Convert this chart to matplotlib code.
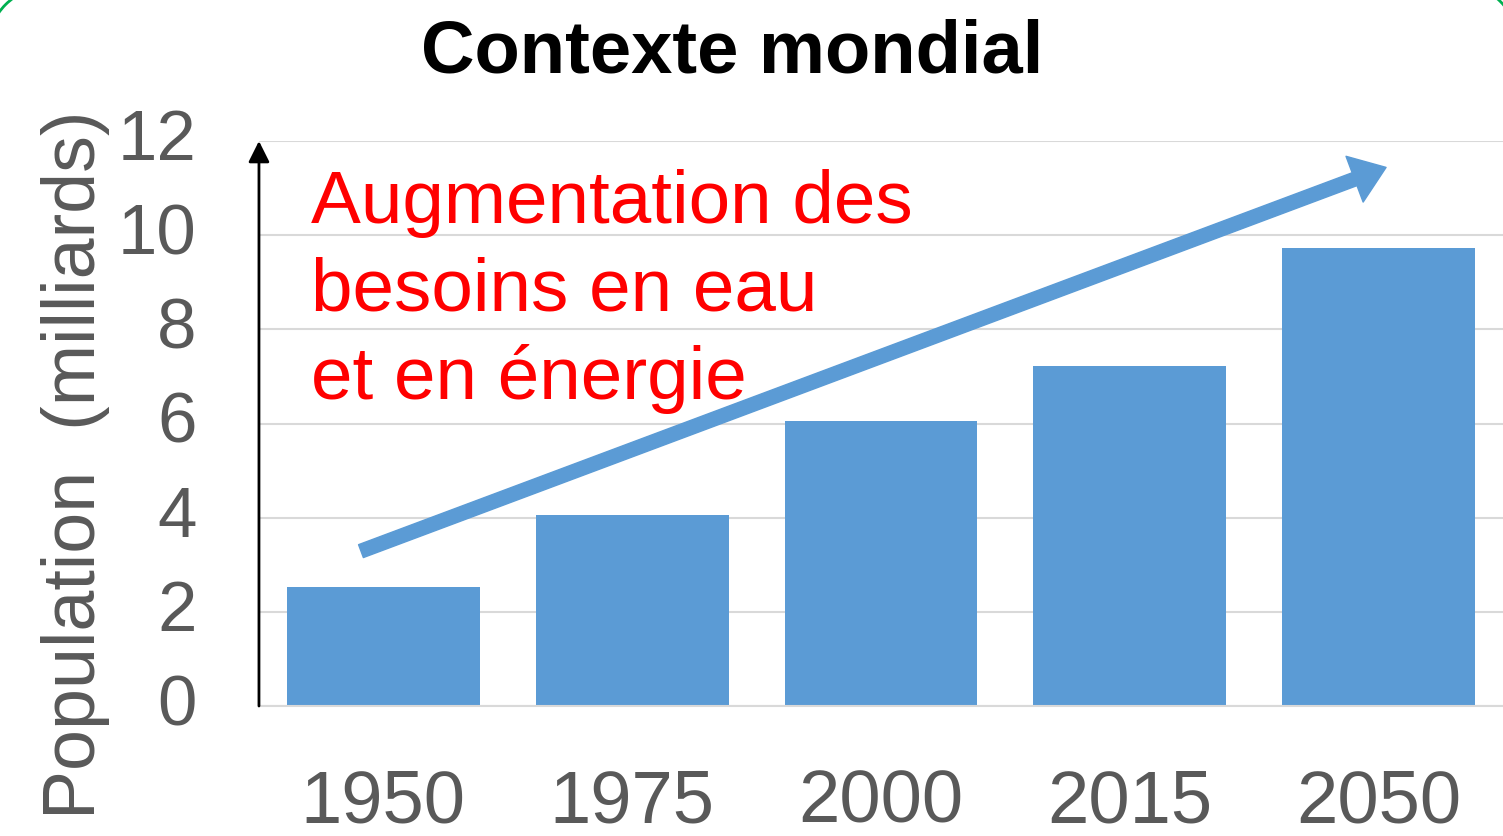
'''plot.py

Contexte mondial: world population bar chart.
'''
import matplotlib.pyplot as plt
from matplotlib.patches import Arc

# Data
years = ["1950", "1975", "2000", "2015", "2050"]
population = [2.52, 4.06, 6.05, 7.23, 9.72]
yticks = [0, 2, 4, 6, 8, 10, 12]

BAR_COLOR = "#5b9bd5"
GRAY = "#595959"

plt.rcParams["font.family"] = ["Liberation Sans", "DejaVu Sans"]

fig = plt.figure(figsize=(15.03, 8.37), dpi=100)
ax = fig.add_axes([0.1723, 0.1553, 0.8277, 0.675])

ax.bar(years, population, width=0.775, color=BAR_COLOR, zorder=2)
ax.set_xlim(-0.5, 4.5)
ax.set_ylim(0, 12)
ax.set_yticks(yticks)
ax.yaxis.grid(True, color="#d9d9d9", linewidth=1.5, zorder=0)
ax.set_axisbelow(True)

for side in ["top", "right"]:
    ax.spines[side].set_visible(False)
ax.spines["bottom"].set_color("#d9d9d9")
ax.spines["bottom"].set_linewidth(1.5)
ax.spines["left"].set_visible(False)

# y axis drawn as an arrow
ax.annotate("", xy=(0, 1.0), xytext=(0, 0), xycoords="axes fraction",
            arrowprops=dict(arrowstyle="-|>", color="black", lw=2,
                            mutation_scale=32, shrinkA=0, shrinkB=0))

ax.tick_params(axis="both", length=0, colors=GRAY)
ax.tick_params(axis="y", pad=45, labelsize=51)
ax.tick_params(axis="x", pad=44, labelsize=53.5)
for lbl in ax.get_yticklabels():
    lbl.set_va("center")

ax.set_ylabel("Population  (milliards)", fontsize=53, color=GRAY)
ax.yaxis.set_label_coords(-0.12, 0.428)

fig.text(0.487, 0.937, "Contexte mondial", fontsize=53.5, fontweight="bold",
         ha="center", va="center")

# trend arrow
ax.annotate("", xy=(4.03, 11.44), xytext=(-0.09, 3.29),
            arrowprops=dict(arrowstyle="simple,head_length=1.1,head_width=1.6,tail_width=0.45",
                            color=BAR_COLOR, mutation_scale=22,
                            shrinkA=0, shrinkB=0), zorder=5)

ax.text(-0.29, 11.42, "Augmentation des\nbesoins en eau\net en énergie",
        color="red", fontsize=53.8, va="top", ha="left", linespacing=1.34,
        zorder=6)

# green rounded frame: only its top corners show inside the picture
fig.patches.append(Arc((0.48, 7.89), 1.2, 1.2, theta1=90, theta2=180,
                       transform=fig.dpi_scale_trans, color="#00b050", lw=2))
fig.patches.append(Arc((14.58, 7.92), 1.2, 1.2, theta1=0, theta2=90,
                       transform=fig.dpi_scale_trans, color="#00b050", lw=2))

fig.savefig("out.png", dpi=100)
